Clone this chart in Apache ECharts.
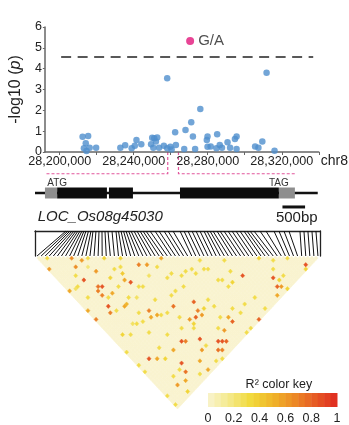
<!DOCTYPE html>
<html>
<head>
<meta charset="utf-8">
<script src="https://cdn.jsdelivr.net/npm/echarts@6/dist/echarts.min.js"></script>
<style>
  html, body { margin: 0; padding: 0; background: #fff; }
  #chart { width: 349px; height: 425px; }
</style>
</head>
<body>
<div id="chart"></div>
<script>
const FONT = '"Liberation Sans", Arial, sans-serif';

// ---- Association scan on chr8: SNP position (bp) and -log10(p) ----
const snpPos = [
  28212400, 28215400, 28214100, 28213100, 28216200, 28219700, 28214500,
  28232800, 28235400, 28238900, 28240600, 28241500, 28244100, 28249400,
  28250000, 28251100, 28252000, 28250600, 28252700, 28253700, 28256300,
  28258100, 28259800, 28260500, 28262400, 28262800, 28258100,
  28267300, 28268000, 28271100, 28272000, 28273200, 28276000,
  28279500, 28279900, 28279900, 28281600, 28284700, 28285100, 28286500,
  28287700, 28290700, 28292100, 28294700, 28295600, 28295600,
  28305600, 28307400, 28309500, 28311800, 28316100
];
const snpLogP = [
  0.73, 0.77, 0.42, 0.18, 0.20, 0.20, 0.05,
  0.20, 0.33, 0.18, 0.30, 0.58, 0.37, 0.37,
  0.68, 0.66, 0.50, 0.20, 0.70, 0.20, 0.30,
  0.18, 0.25, 0.12, 0.95, 0.34, 3.54,
  0.15, 1.06, 1.43, 0.74, 0.15, 2.07,
  0.58, 0.74, 0.25, 0.26, 0.18, 0.85, 0.34,
  0.20, 0.47, 0.20, 0.62, 0.74, 0.15,
  0.26, 0.20, 0.50, 3.81, 0.06
];
const leadSnpPos = 28270500;
const leadSnpLogP = 5.33;
const leadSnpAllele = 'G/A';
const threshold = 4.55;
const chrName = 'chr8';
const xLabelValues = [28200000, 28240000, 28280000, 28320000];
const xTickValues = [28200000, 28220000, 28240000, 28260000, 28280000, 28300000, 28320000, 28340000];

// ---- Gene model, bp offsets within the displayed locus ----
const geneName = 'LOC_Os08g45030';
const locusLength = 6300;
const geneBackbone = [0, 6250];
const utrs = [[220, 490], [5390, 5745]];
const exons = [[490, 1590], [1635, 2165], [3205, 5390]];
const codonLabels = ['ATG', 'TAG'];
const geneOnChr = [28258400, 28264200];
const scaleBar = [5470, 5970];
const scaleBarLabel = '500bp';

// ---- SNPs of the locus used for the LD plot (bp offsets) ----
const ldSnpPos = [
  685, 729, 774, 818, 862, 906, 950, 995, 1039, 1083,
  1127, 1182, 1238, 1282, 1348, 1415, 1481, 1547, 1613, 1702,
  1790, 1845, 1901, 1956, 2011, 2067, 2122, 2188, 2254, 2321, 2387, 2453,
  2542, 2652, 2740, 2851, 2939, 3050,
  3205, 3293, 3381, 3470, 3558, 3646,
  3735, 3801, 3868, 3934, 4022, 4089, 4177, 4265, 4354, 4442, 4530, 4619, 4685, 4752,
  4840, 4973, 5105,
  5282, 5392, 5503, 5613,
  5857, 5945, 6033, 6122, 6210
];

// Pairwise r2 between SNP i and SNP j (pairs not listed are ~0)
const ldPairs = [
  [8,9,0.65],[10,12,0.6],[0,6,0.6],[7,12,0.65],[10,15,0.2],[6,17,0.85],[11,18,0.6],
  [13,23,0.35],[16,22,0.3],[17,25,0.4],[16,27,0.55],[23,27,0.7],[25,29,0.6],[27,32,0.3],
  [30,31,0.55],[8,22,0.75],[9,23,0.85],[7,23,0.7],[17,29,0.85],[5,14,0.3],[3,17,0.3],
  [0,16,0.55],[3,22,0.3],[7,25,0.7],[10,27,0.55],[8,27,0.3],[6,29,0.85],[5,31,0.7],
  [7,32,0.3],[10,33,0.55],[11,33,0.5],[13,27,0.3],[18,32,0.3],[19,33,0.3],[13,32,0.3],
  [15,34,0.25],[15,40,0.7],[14,42,0.55],[16,43,0.55],[22,45,0.75],[0,29,0.7],[0,25,0.55],
  [11,41,0.3],[3,39,0.35],[24,42,0.3],[26,42,0.3],
  [64,68,0.85],[63,69,0.35],[53,63,0.85],[54,65,0.35],[52,66,0.8],[53,67,0.6],[54,69,0.35],
  [50,68,0.55],[46,55,0.85],[42,54,0.35],[40,54,0.3],[40,51,0.3],[39,45,0.3],[35,43,0.3],
  [31,40,0.3],[28,49,0.8],[27,52,0.7],[27,54,0.6],[25,53,0.8],[23,52,0.6],[23,54,0.35],
  [32,52,0.3],[33,61,0.55],[33,63,0.8],[40,62,0.3],[44,63,0.3],[44,68,0.3],[40,69,0.8],
  [29,63,0.6],[39,41,0.3],
  [16,55,0.85],[17,56,0.7],[21,59,0.85],[25,64,0.85],[26,65,0.85],[27,66,0.8],[23,66,0.75],
  [24,67,0.7],[19,62,0.6],[4,51,0.85],[6,53,0.55],[8,55,0.35],[11,60,0.85],[10,63,0.75],
  [16,64,0.55],[16,68,0.55],[5,64,0.6],[8,65,0.55],[6,68,0.35],[0,64,0.3],[0,68,0.3],
  [12,55,0.55],
  [18,23,0.3],[2,17,0.25],[19,39,0.3],[17,44,0.3],[19,45,0.3],[23,32,0.25],[29,37,0.3],
  [12,38,0.3],[8,39,0.25],[16,17,0.35],[2,3,0.3],[20,21,0.35],[12,13,0.3],[35,41,0.3],
  [39,50,0.3],[29,43,0.3],[29,53,0.35],[32,55,0.3],[37,63,0.3],[36,69,0.3],[28,61,0.3],
  [21,49,0.3],[45,47,0.3],[54,55,0.35],[57,59,0.3],[61,62,0.3],[9,61,0.3],[13,67,0.3],
  [6,61,0.3],[0,53,0.3],[0,50,0.3],[0,44,0.3],[5,41,0.3],[9,51,0.3],[20,68,0.3],
  [22,69,0.3],[22,55,0.3],[10,45,0.3],[14,50,0.3],[19,52,0.3],[9,40,0.3],[21,62,0.3],
  [31,59,0.3],[36,60,0.3],[34,69,0.3],[27,37,0.3],[33,40,0.3],[55,61,0.3],[56,65,0.3],
  [44,51,0.3],[38,44,0.3]
];

// ---- R2 colour key ----
const keyTitle = 'R\u00B2 color key';
const keyLevels = [0.025, 0.075, 0.125, 0.175, 0.225, 0.275, 0.325, 0.375, 0.425, 0.475,
                   0.525, 0.575, 0.625, 0.675, 0.725, 0.775, 0.825, 0.875, 0.925, 0.975];
const keyBandWidth = 0.05;
const r2Colors = ['#f9f3cf', '#f4e98a', '#f1d93a', '#f0b52a', '#ec8a26', '#e65a24', '#df2a20'];

// Full upper-triangle matrix, low values drawn first so coloured cells sit on top
const nSnp = ldSnpPos.length;
const r2Lookup = {};
ldPairs.forEach(([i, j, v]) => { r2Lookup[i + '-' + j] = v; });
const ldCells = [];
for (let i = 0; i < nSnp; i++) {
  for (let j = i + 1; j < nSnp; j++) ldCells.push([i, j, r2Lookup[i + '-' + j] || 0]);
}
ldCells.sort((a, b) => a[2] - b[2]);

const chart = echarts.init(document.getElementById('chart'), null, { renderer: 'canvas' });

function bpRect(api, start, end, half, color) {
  const p0 = api.coord([start, half]);
  const p1 = api.coord([end, -half]);
  return { type: 'rect', shape: { x: p0[0], y: p0[1], width: p1[0] - p0[0], height: p1[1] - p0[1] }, style: { fill: color } };
}

const hiddenAxis = { show: false };

const option = {
  animation: false,
  backgroundColor: '#fff',
  textStyle: { fontFamily: FONT },
  grid: [
    { left: 42, top: 27, width: 283, height: 125, containLabel: false },
    { left: 35, top: 182, width: 285, height: 44, containLabel: false },
    { left: 35, top: 231, width: 285, height: 25, containLabel: false },
    { left: 35, top: 256, width: 285, height: 153, containLabel: false },
    { left: 208, top: 393, width: 129, height: 15, containLabel: false }
  ],
  xAxis: [
    {
      gridIndex: 0, type: 'value', min: 28192000, max: 28340000,
      name: chrName, nameLocation: 'end', nameGap: 2,
      nameTextStyle: { color: '#222', fontSize: 14, verticalAlign: 'top', padding: [2, 0, 0, 0], fontFamily: FONT },
      axisLine: { show: true, lineStyle: { color: '#666', width: 1.5 } },
      axisTick: { show: true, length: 3, customValues: xTickValues, lineStyle: { color: '#666' } },
      axisLabel: {
        customValues: xLabelValues, color: '#222', fontSize: 12.6, margin: 3, fontFamily: FONT,
        formatter: v => Number(v).toLocaleString('en-US')
      },
      splitLine: { show: false }
    },
    { gridIndex: 1, type: 'value', min: 0, max: locusLength, ...hiddenAxis },
    {
      gridIndex: 2, type: 'value', min: 0, max: locusLength, position: 'top',
      axisLine: { show: true, onZero: false, lineStyle: { color: '#222', width: 1.3 } },
      axisTick: { show: false }, axisLabel: { show: false }, splitLine: { show: false }
    },
    { gridIndex: 3, type: 'value', min: 0, max: nSnp, ...hiddenAxis },
    {
      gridIndex: 4, type: 'value', min: 0, max: 1, interval: 0.2,
      axisLine: { show: false }, axisTick: { show: false }, splitLine: { show: false },
      axisLabel: {
        color: '#222', fontSize: 12.5, margin: 5, fontFamily: FONT,
        formatter: v => (v === 0 || v === 1) ? String(v) : v.toFixed(1)
      }
    }
  ],
  yAxis: [
    {
      gridIndex: 0, type: 'value', min: 0, max: 6, interval: 1,
      name: '-log10 ({i|p})', nameLocation: 'middle', nameRotate: 90, nameGap: 18,
      nameTextStyle: { color: '#222', fontSize: 16, fontFamily: FONT, rich: { i: { fontStyle: 'italic', fontSize: 16, fontFamily: FONT } } },
      axisLine: { show: true, lineStyle: { color: '#666', width: 1.5 } },
      axisTick: { show: true, length: 2, lineStyle: { color: '#666' } },
      axisLabel: { color: '#222', fontSize: 12.5, margin: 3, fontFamily: FONT },
      splitLine: { show: false }
    },
    { gridIndex: 1, type: 'value', min: -3, max: 1, ...hiddenAxis },
    {
      gridIndex: 2, type: 'value', min: 0, max: 1, position: 'left',
      axisLine: { show: true, onZero: false, lineStyle: { color: '#222', width: 1.3 } },
      axisTick: { show: false }, axisLabel: { show: false }, splitLine: { show: false }
    },
    {
      gridIndex: 2, type: 'value', min: 0, max: 1, position: 'right',
      axisLine: { show: true, onZero: false, lineStyle: { color: '#222', width: 1.3 } },
      axisTick: { show: false }, axisLabel: { show: false }, splitLine: { show: false }
    },
    { gridIndex: 3, type: 'value', min: 0, max: nSnp, inverse: true, ...hiddenAxis },
    { gridIndex: 4, type: 'value', min: 0, max: 1, ...hiddenAxis }
  ],
  visualMap: {
    type: 'continuous', show: false, min: 0, max: 1, dimension: 2,
    seriesIndex: [8, 9], inRange: { color: r2Colors }
  },
  series: [
    // 0: association scan
    {
      type: 'scatter', xAxisIndex: 0, yAxisIndex: 0, symbolSize: 6.5,
      itemStyle: { color: '#4f8fcd' },
      data: snpPos.map((p, k) => [p, snpLogP[k]]),
      markLine: {
        silent: true, symbol: ['none', 'none'], label: { show: false },
        lineStyle: { color: '#222', width: 1.6, type: [10, 6.5] },
        data: [[{ coord: [28200800, threshold] }, { coord: [28337000, threshold] }]]
      }
    },
    // 1: lead SNP
    {
      type: 'scatter', xAxisIndex: 0, yAxisIndex: 0, symbolSize: 8,
      itemStyle: { color: '#e2157a' },
      label: { show: true, position: 'right', distance: 4, formatter: leadSnpAllele, color: '#222', fontSize: 15, fontFamily: FONT },
      data: [[leadSnpPos, leadSnpLogP]]
    },
    // 2: gene backbone
    {
      type: 'custom', xAxisIndex: 1, yAxisIndex: 1, data: [geneBackbone],
      renderItem: (params, api) => {
        const a = api.coord([api.value(0), 0]);
        const b = api.coord([api.value(1), 0]);
        return { type: 'line', shape: { x1: a[0], y1: a[1], x2: b[0], y2: b[1] }, style: { stroke: '#111', lineWidth: 2.5 } };
      }
    },
    // 3: UTRs
    {
      type: 'custom', xAxisIndex: 1, yAxisIndex: 1, data: utrs,
      renderItem: (params, api) => bpRect(api, api.value(0), api.value(1), 0.5, '#8e8e8e')
    },
    // 4: exons
    {
      type: 'custom', xAxisIndex: 1, yAxisIndex: 1, data: exons,
      renderItem: (params, api) => bpRect(api, api.value(0), api.value(1), 0.5, '#0c0c0c')
    },
    // 5: start / stop codon labels
    {
      type: 'custom', xAxisIndex: 1, yAxisIndex: 1,
      data: [[exons[0][0], 0], [exons[exons.length - 1][1], 1]],
      renderItem: (params, api) => {
        const p = api.coord([api.value(0), 0.85]);
        return { type: 'text', x: p[0], y: p[1], style: { text: codonLabels[api.value(1)], fill: '#333', font: '10px ' + FONT, textAlign: 'center', textVerticalAlign: 'middle' } };
      }
    },
    // 6: scale bar
    {
      type: 'custom', xAxisIndex: 1, yAxisIndex: 1, data: [scaleBar],
      renderItem: (params, api) => {
        const a = api.coord([api.value(0), -1.27]);
        const b = api.coord([api.value(1), -1.27]);
        const t = api.coord([(api.value(0) + api.value(1)) / 2, -2.25]);
        return {
          type: 'group', children: [
            { type: 'line', shape: { x1: a[0], y1: a[1], x2: b[0], y2: b[1] }, style: { stroke: '#111', lineWidth: 3 } },
            { type: 'text', x: t[0] + 3, y: t[1], style: { text: scaleBarLabel, fill: '#222', font: '15px ' + FONT, textAlign: 'center', textVerticalAlign: 'middle' } }
          ]
        };
      }
    },
    // 7: SNP position -> LD column connectors
    {
      type: 'custom', xAxisIndex: 2, yAxisIndex: 2,
      data: ldSnpPos.map((p, k) => [p, k]),
      renderItem: (params, api) => {
        const top = api.coord([api.value(0), 1]);
        const bottom = api.coord([(api.value(1) + 0.5) * locusLength / nSnp, 0]);
        return { type: 'line', shape: { x1: top[0], y1: top[1], x2: bottom[0], y2: bottom[1] }, style: { stroke: '#111', lineWidth: 1 } };
      }
    },
    // 8: LD triangle
    {
      type: 'custom', xAxisIndex: 3, yAxisIndex: 4, data: ldCells,
      renderItem: (params, api) => {
        const i = api.value(0), j = api.value(1);
        const cx = (i + j + 1) / 2, cy = j - i;
        const pts = [api.coord([cx, cy - 1]), api.coord([cx + 0.5, cy]), api.coord([cx, cy + 1]), api.coord([cx - 0.5, cy])];
        const c = api.visual('color');
        return { type: 'polygon', shape: { points: pts }, style: { fill: c, stroke: c, lineWidth: 0.5 } };
      }
    },
    // 9: colour key bands
    {
      type: 'custom', xAxisIndex: 4, yAxisIndex: 5,
      data: keyLevels.map(v => [v - keyBandWidth / 2, v + keyBandWidth / 2, v]),
      renderItem: (params, api) => {
        const p0 = api.coord([api.value(0), 1]);
        const p1 = api.coord([api.value(1), 0]);
        const c = api.visual('color');
        return { type: 'rect', shape: { x: p0[0], y: p0[1], width: p1[0] - p0[0] + 0.5, height: p1[1] - p0[1] }, style: { fill: c } };
      }
    }
  ]
};

chart.setOption(option);

// Dashed connectors from the gene span on the chromosome axis to the gene model
const axisLeft = chart.convertToPixel({ gridIndex: 0 }, [geneOnChr[0], 0]);
const axisRight = chart.convertToPixel({ gridIndex: 0 }, [geneOnChr[1], 0]);
const modelLeft = chart.convertToPixel({ gridIndex: 1 }, [utrs[0][0], 1.75]);
const modelRight = chart.convertToPixel({ gridIndex: 1 }, [utrs[utrs.length - 1][1], 1.75]);
const titlePos = chart.convertToPixel({ gridIndex: 4 }, [0.55, 1]);
const namePos = chart.convertToPixel({ gridIndex: 1 }, [60, -2.2]);
const pinkLine = { stroke: '#e2559c', lineWidth: 1.2, lineDash: [3, 2], fill: null };

chart.setOption({
  graphic: [
    { type: 'polyline', silent: true, shape: { points: [[axisLeft[0], axisLeft[1]], [axisLeft[0], modelLeft[1]], [modelLeft[0], modelLeft[1]]] }, style: pinkLine },
    { type: 'polyline', silent: true, shape: { points: [[axisRight[0], axisRight[1]], [axisRight[0], modelRight[1]], [modelRight[0], modelRight[1]]] }, style: pinkLine },
    { type: 'text', x: namePos[0], y: namePos[1], style: { text: geneName, fill: '#222', font: 'italic 15px ' + FONT, textVerticalAlign: 'middle' } },
    { type: 'text', x: titlePos[0], y: titlePos[1] - 8, style: { text: keyTitle, fill: '#222', font: '12.5px ' + FONT, textAlign: 'center', textVerticalAlign: 'middle' } }
  ]
});
</script>
</body>
</html>
